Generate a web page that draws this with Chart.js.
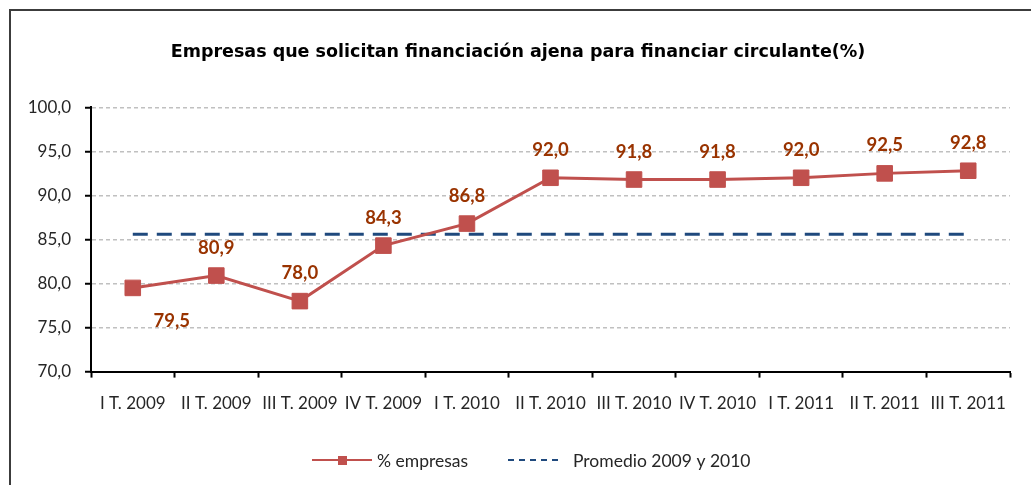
<!DOCTYPE html>
<html><head><meta charset="utf-8">
<script src="https://cdn.jsdelivr.net/npm/chart.js@4.4.1/dist/chart.umd.min.js"></script>
<style>html,body{margin:0;padding:0;background:#fff}#wrap{width:1031px;height:485px;position:relative}</style>
</head><body><div id="wrap"><canvas id="c" width="1031" height="485"></canvas></div>
<script>
const categories = ['I T. 2009','II T. 2009','III T. 2009','IV T. 2009','I T. 2010','II T. 2010','III T. 2010','IV T. 2010','I T. 2011','II T. 2011','III T. 2011'];
const empresas = [79.5, 80.9, 78.0, 84.3, 86.8, 92.0, 91.8, 91.8, 92.0, 92.5, 92.8];
const promedio = [85.6, 85.6, 85.6, 85.6, 85.6, 85.6, 85.6, 85.6, 85.6, 85.6, 85.6];
const yTicks = [70, 75, 80, 85, 90, 95, 100];
const titleText = 'Empresas que solicitan financiación ajena para financiar circulante(%)';

const FONT = 'Lato, "DejaVu Sans", sans-serif';
const TITLE_FONT = '"DejaVu Sans", sans-serif';
const fmt = v => v.toFixed(1).replace('.', ',');

const framePlugin = {
  id: 'frame',
  beforeDraw(chart) {
    const ctx = chart.ctx;
    ctx.save();
    ctx.fillStyle = '#fff';
    ctx.fillRect(0, 0, chart.width, chart.height);
    ctx.strokeStyle = '#3c3c3c';
    ctx.lineWidth = 2;
    ctx.strokeRect(10, 10, chart.width + 20, chart.height + 20);
    ctx.restore();
  }
};

const labelPlugin = {
  id: 'pointLabels',
  afterDatasetsDraw(chart) {
    const ctx = chart.ctx;
    const meta = chart.getDatasetMeta(0);
    const special = {0: [39, 33]};
    ctx.save();
    ctx.font = 'bold 18.5px ' + FONT;
    ctx.fillStyle = '#993300';
    ctx.textAlign = 'center';
    ctx.textBaseline = 'middle';
    meta.data.forEach((pt, i) => {
      const off = special[i] || [0, -28];
      ctx.fillText(fmt(chart.data.datasets[0].data[i]), pt.x + off[0], pt.y + off[1]);
    });
    ctx.restore();
  }
};

const legendPlugin = {
  id: 'customLegend',
  afterDraw(chart) {
    const ctx = chart.ctx;
    const y = 460;
    const ds = chart.data.datasets;
    ctx.save();
    ctx.font = '17.5px ' + FONT;
    ctx.fillStyle = '#262626';
    ctx.textBaseline = 'middle';
    ctx.textAlign = 'left';
    let x = 312;
    ctx.strokeStyle = ds[0].borderColor;
    ctx.lineWidth = 2;
    ctx.beginPath(); ctx.moveTo(x, y); ctx.lineTo(x + 60, y); ctx.stroke();
    ctx.fillStyle = ds[0].pointBackgroundColor;
    ctx.fillRect(x + 26, y - 4, 9, 9);
    ctx.fillStyle = '#262626';
    ctx.fillText(ds[0].label, x + 65, y + 1);
    x = 508;
    ctx.strokeStyle = ds[1].borderColor;
    ctx.lineWidth = 2;
    ctx.setLineDash([6, 5]);
    ctx.beginPath(); ctx.moveTo(x, y); ctx.lineTo(x + 55, y); ctx.stroke();
    ctx.setLineDash([]);
    ctx.fillText(ds[1].label, x + 65, y + 1);
    ctx.restore();
  }
};

new Chart(document.getElementById('c'), {
  type: 'line',
  data: {
    labels: categories,
    datasets: [
      {
        label: '% empresas',
        data: empresas,
        borderColor: '#c0504d',
        backgroundColor: '#c0504d',
        pointBackgroundColor: '#c0504d',
        pointBorderColor: '#c0504d',
        borderWidth: 3,
        pointStyle: 'rect',
        pointRadius: 11,
        pointBorderWidth: 1,
        tension: 0,
        order: 1
      },
      {
        label: 'Promedio 2009 y 2010',
        data: promedio,
        borderColor: '#1f497d',
        backgroundColor: '#1f497d',
        borderWidth: 3,
        borderDash: [15, 9],
        pointRadius: 0,
        tension: 0,
        order: 2
      }
    ]
  },
  options: {
    responsive: false,
    animation: false,
    events: [],
    layout: { padding: { left: 26, right: 21, top: 0, bottom: 55 } },
    plugins: {
      legend: { display: false },
      tooltip: { enabled: false },
      title: {
        display: true,
        text: titleText,
        color: '#000',
        font: { family: TITLE_FONT, size: 17.5, weight: 'bold' },
        padding: { top: 42, bottom: 44.3 }
      }
    },
    scales: {
      x: {
        offset: true,
        grid: { display: true, drawOnChartArea: false, drawTicks: true, tickLength: 6, tickColor: '#000', tickWidth: 2, offset: true },
        border: { display: true, color: '#000', width: 2 },
        ticks: { color: '#262626', font: { family: FONT, size: 17 }, padding: 16, autoSkip: false, maxRotation: 0, minRotation: 0 }
      },
      y: {
        min: 70, max: 100,
        afterFit(s) { s.width = 65; },
        afterBuildTicks(s) { s.ticks = yTicks.map(v => ({ value: v })); },
        grid: { color: '#c0c0c0', lineWidth: 1.5, drawTicks: true, tickLength: 6, tickColor: '#000', tickWidth: 2 },
        border: { display: true, color: '#000', width: 2, dash: [4, 3] },
        ticks: { color: '#262626', font: { family: FONT, size: 17 }, padding: 14, callback: v => fmt(v) }
      }
    }
  },
  plugins: [framePlugin, labelPlugin, legendPlugin]
});
</script>
</body></html>
